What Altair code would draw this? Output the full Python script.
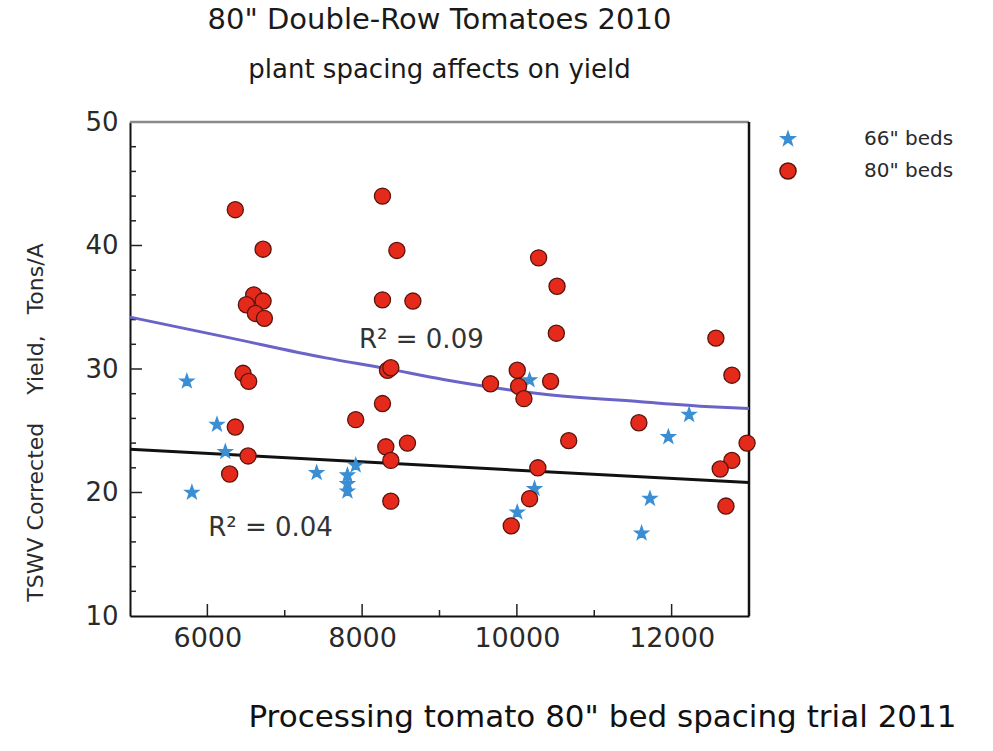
import altair as alt
import pandas as pd

# Plant spacing (plants/A) and corrected yield (tons/A) for 66" beds
beds66_spacing = [5735, 5800, 6124, 6232, 7412, 7810, 7810, 7810, 7917,
                  10005, 10164, 10228, 11612, 11720, 11958, 12226]
beds66_yield = [29.0, 20.0, 25.5, 23.3, 21.6, 21.4, 20.7, 20.1, 22.2,
                18.4, 29.1, 20.3, 16.7, 19.5, 24.5, 26.3]

# Plant spacing and corrected yield for 80" beds
beds80_spacing = [6361, 6720, 6599, 6720, 6504, 6621, 6737,
                  8263, 8449, 8263, 8656,
                  6461, 6534, 6361, 6526, 6288,
                  7917, 8263, 8328, 8371, 8586, 8306, 8371, 8371,
                  10281, 10519, 10510, 12572, 12779,
                  9659, 10005, 10022, 10091, 10436, 10670, 10271, 10164, 9927,
                  11577, 12975, 12779, 12628, 12702]
beds80_yield = [42.9, 39.7, 36.0, 35.5, 35.2, 34.5, 34.1,
                44.0, 39.6, 35.6, 35.5,
                29.65, 29.0, 25.3, 22.96, 21.5,
                25.9, 27.2, 29.9, 30.1, 24.0, 23.7, 22.6, 19.3,
                39.0, 36.7, 32.9, 32.5, 29.5,
                28.8, 29.9, 28.6, 27.6, 29.0, 24.2, 22.0, 19.5, 17.3,
                25.65, 24.0, 22.6, 21.9, 18.9]

# Trend lines
trend80_spacing = [5000, 6230, 7530, 8300, 9050, 10300, 11600, 12500, 13000]
trend80_yield = [34.2, 32.6, 30.9, 30.05, 29.15, 28.0, 27.35, 26.95, 26.8]
trend66_spacing = [5000, 13000]
trend66_yield = [23.5, 20.8]

# R-squared annotations
r2_text = ["R\u00b2 = 0.09", "R\u00b2 = 0.04"]
r2_spacing = [7960, 6010]
r2_yield = [32.35, 17.1]

# Axis ticks
y_major = [10, 20, 30, 40, 50]
y_minor = [12, 14, 16, 18, 22, 24, 26, 28, 32, 34, 36, 38, 42, 44, 46, 48]
x_major = [6000, 8000, 10000, 12000]
x_minor = [7000, 9000, 11000]

series = ['66" beds', '80" beds']
STAR = ("M0,-1L0.235,-0.324L0.951,-0.309L0.380,0.124L0.588,0.809L0,0.4"
        "L-0.588,0.809L-0.380,0.124L-0.951,-0.309L-0.235,-0.324Z")

FONT = "DejaVu Sans"
TEXT = "#2a2a2a"
NB = "\u00a0"
W, H = 619, 494

points = pd.concat([
    pd.DataFrame({"spacing": beds66_spacing, "yield": beds66_yield, "bed": series[0]}),
    pd.DataFrame({"spacing": beds80_spacing, "yield": beds80_yield, "bed": series[1]}),
], ignore_index=True)

xs = alt.Scale(domain=[5000, 13000], nice=False, zero=False)
ys = alt.Scale(domain=[10, 50], nice=False, zero=False)

x_axis = alt.Axis(values=x_major, format="d", labelFontSize=27, labelFont=FONT,
                  labelColor=TEXT, labelPadding=9, ticks=False, grid=False,
                  domainColor="#111", domainWidth=2,
                  title='Processing tomato 80" bed spacing trial 2011',
                  titleFont=FONT, titleFontSize=31, titleFontWeight="normal",
                  titleColor="#111", titleX=472, titleY=101,
                  titleAlign="center", titleBaseline="middle")
y_axis = alt.Axis(values=y_major, labelFontSize=26, labelFont=FONT,
                  labelColor=TEXT, labelPadding=12, ticks=False, grid=False,
                  domainColor="#111", domainWidth=2,
                  title=f"TSWV Corrected{NB}{NB}{NB}{NB}Yield,{NB}{NB}{NB}Tons/A",
                  titleFont=FONT, titleFontSize=22, titleFontWeight="normal",
                  titleColor=TEXT, titleX=-95, titleY=300, titleAngle=270,
                  titleAlign="center", titleBaseline="middle")

base_x = alt.X("spacing:Q", scale=xs, axis=x_axis)
base_y = alt.Y("yield:Q", scale=ys, axis=y_axis)

# Inward tick marks
ymaj = alt.Chart(pd.DataFrame({"v": y_major[1:-1]})).mark_rule(color="#222", strokeWidth=1.5).encode(
    y=alt.Y("v:Q", scale=ys), x=alt.value(0), x2=alt.value(12))
ymin = alt.Chart(pd.DataFrame({"v": y_minor})).mark_rule(color="#222", strokeWidth=1.5).encode(
    y=alt.Y("v:Q", scale=ys), x=alt.value(0), x2=alt.value(6))
xmaj = alt.Chart(pd.DataFrame({"v": x_major})).mark_rule(color="#222", strokeWidth=1.5).encode(
    x=alt.X("v:Q", scale=xs), y=alt.value(H), y2=alt.value(H - 12))
xmin = alt.Chart(pd.DataFrame({"v": x_minor})).mark_rule(color="#222", strokeWidth=1.5).encode(
    x=alt.X("v:Q", scale=xs), y=alt.value(H), y2=alt.value(H - 6))

# Frame: gray top, black right
top_rule = alt.Chart(pd.DataFrame({"v": [50]})).mark_rule(color="#8a8a8a", strokeWidth=2.5).encode(
    y=alt.Y("v:Q", scale=ys), x=alt.value(0), x2=alt.value(W))
right_rule = alt.Chart(pd.DataFrame({"v": [13000]})).mark_rule(color="#111", strokeWidth=2.5).encode(
    x=alt.X("v:Q", scale=xs), y=alt.value(0), y2=alt.value(H))

trend80 = alt.Chart(pd.DataFrame({"spacing": trend80_spacing, "yield": trend80_yield})).mark_line(
    color="#6a63c8", strokeWidth=3, interpolate="monotone").encode(x=base_x, y=base_y)
trend66 = alt.Chart(pd.DataFrame({"spacing": trend66_spacing, "yield": trend66_yield})).mark_line(
    color="#111", strokeWidth=3).encode(x=base_x, y=base_y)

pts = alt.Chart(points).mark_point(filled=True, opacity=1, strokeWidth=1.3).encode(
    x=base_x, y=base_y,
    color=alt.Color("bed:N", scale=alt.Scale(domain=series, range=["#3a8ed4", "#e52a1c"]),
                    legend=alt.Legend(title=None, orient="none", legendX=648, legendY=7,
                                      labelFont=FONT, labelFontSize=20, labelColor=TEXT,
                                      labelOffset=66, rowPadding=10, padding=0)),
    shape=alt.Shape("bed:N", scale=alt.Scale(domain=series, range=[STAR, "circle"])),
    stroke=alt.Stroke("bed:N", scale=alt.Scale(domain=series, range=["#3a8ed4", "#5a140c"])),
    size=alt.Size("bed:N", scale=alt.Scale(domain=series, range=[210, 260])),
    order=alt.Order("bed:N", sort="ascending"),
)

r2 = alt.Chart(pd.DataFrame({"label": r2_text, "spacing": r2_spacing, "yield": r2_yield})).mark_text(
    align="left", baseline="middle", font=FONT, fontSize=26, color="#333").encode(
    x=base_x, y=base_y, text="label:N")

chart = alt.layer(top_rule, right_rule, ymaj, ymin, xmaj, xmin, trend80, trend66, pts, r2).properties(
    width=W, height=H,
    autosize=alt.AutoSizeParams(type="none"),
    padding={"left": 130, "top": 122, "right": 993 - 130 - W, "bottom": 751 - 122 - H},
    title=alt.TitleParams(text='80" Double-Row Tomatoes 2010',
                          subtitle="plant spacing affects on yield",
                          font=FONT, fontSize=29, fontWeight="normal", color="#1a1a1a",
                          subtitleFont=FONT, subtitleFontSize=26, subtitleColor="#1a1a1a",
                          subtitlePadding=22, anchor="middle", offset=26),
).configure_view(stroke=None).configure(background="white")

chart.save("out.html", embed_options={"renderer": "svg", "actions": False})
